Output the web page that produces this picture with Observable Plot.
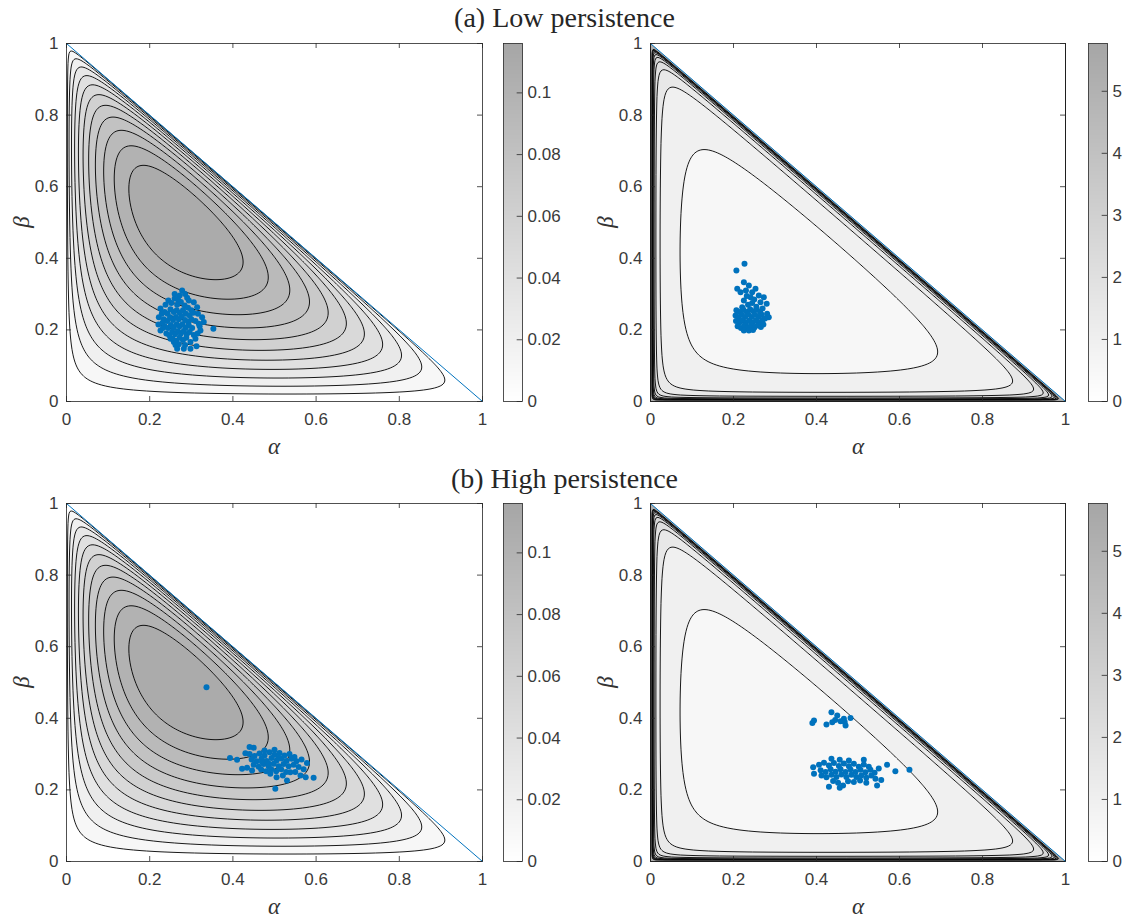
<!DOCTYPE html>
<html><head><meta charset="utf-8">
<script src="https://cdn.jsdelivr.net/npm/d3@7"></script>
<script src="https://cdn.jsdelivr.net/npm/@observablehq/plot@0.6"></script>
<style>
body{margin:0;background:#fff;}
#root{position:relative;width:1129px;height:921px;overflow:hidden;font-family:"Liberation Sans",Arial,sans-serif;}
.ttl{position:absolute;left:0;width:1129px;text-align:center;font-family:"Liberation Serif",serif;font-size:28px;line-height:30px;color:#262626;}
.lab{position:absolute;font-family:"Liberation Serif",serif;font-style:italic;font-size:23px;line-height:24px;color:#333;width:30px;text-align:center;}
</style></head><body><div id="root"></div>
<script>
// ---------- data ----------
const titles = ["(a) Low persistence", "(b) High persistence"];
const alphaTicks = [0, 0.2, 0.4, 0.6, 0.8, 1];
const betaTicks = [0, 0.2, 0.4, 0.6, 0.8, 1];
const priorLevels = [0.01, 0.02, 0.03, 0.04, 0.05, 0.06, 0.07, 0.08, 0.09, 0.10, 0.11];
const postLevels = [0.5, 1, 1.5, 2, 2.5, 3, 3.5, 4, 4.5, 5, 5.5];
const priorMax = 0.116;
const postMax = 5.77;
const priorBarTicks = [0, 0.02, 0.04, 0.06, 0.08, 0.1];
const postBarTicks = [0, 1, 2, 3, 4, 5];
// shape parameters of the two density surfaces (estimated from contour crossings)
// prior: peak * G(u) * H(v), u = alpha/(1-beta), v = beta
const priorShape = {peak: 0.1225, uLow: 0.62, uHigh: 0.52, vLow: 1, vHigh: 1};
// posterior: c0 + c1*alpha^-s + c2*beta^-s + c3*(1-alpha-beta)^-s
const postShape = {c0: 0.447, c1: 0.042, c2: 0.046, c3: 0.066, s: 0.8};
const diagonal = [[0, 1], [1, 0]];

const ptsLowLeft = [[0.278,0.31],[0.272,0.296],[0.268,0.285],[0.226,0.26],[0.222,0.235],[0.226,0.198],[0.221,0.215],[0.353,0.203],[0.326,0.235],[0.314,0.263],[0.306,0.277],[0.294,0.282],[0.266,0.147],[0.282,0.147],[0.298,0.147],[0.3125,0.154],[0.258,0.166],[0.25,0.175],[0.298,0.166],[0.31,0.175],[0.322,0.198],[0.318,0.217],
[0.238,0.27],[0.245,0.282],[0.252,0.275],[0.26,0.288],[0.266,0.27],[0.275,0.278],[0.284,0.268],[0.292,0.262],[0.3,0.255],
[0.236,0.25],[0.243,0.245],[0.25,0.258],[0.258,0.25],[0.265,0.255],[0.272,0.248],[0.28,0.255],[0.287,0.245],[0.296,0.24],[0.305,0.248],
[0.234,0.23],[0.242,0.225],[0.249,0.235],[0.256,0.228],[0.263,0.236],[0.27,0.23],[0.277,0.238],[0.285,0.228],[0.293,0.222],[0.3,0.23],[0.31,0.225],
[0.236,0.21],[0.244,0.205],[0.251,0.214],[0.258,0.207],[0.265,0.216],[0.272,0.21],[0.279,0.216],[0.286,0.206],[0.294,0.212],[0.302,0.205],
[0.24,0.19],[0.247,0.185],[0.254,0.195],[0.261,0.188],[0.268,0.196],[0.275,0.19],[0.282,0.197],[0.289,0.188],[0.296,0.194],[0.306,0.186],
[0.255,0.175],[0.264,0.17],[0.272,0.178],[0.28,0.172],[0.288,0.178],[0.27,0.16],[0.285,0.158],[0.262,0.158],
[0.229,0.245],[0.231,0.22],[0.232,0.205],[0.316,0.245],[0.32,0.21],[0.33,0.222],[0.315,0.19],[0.26,0.3],[0.285,0.3],[0.29,0.29]];

const ptsLowRight = [[0.2265,0.385],[0.207,0.366],[0.225,0.333],[0.209,0.315],[0.217,0.305],[0.237,0.324],[0.253,0.315],[0.261,0.296],[0.273,0.291],[0.28,0.273],[0.265,0.277],[0.241,0.291],[0.225,0.282],[0.221,0.263],[0.281,0.245],[0.285,0.235],[0.23,0.31],[0.245,0.305],[0.232,0.295],[0.25,0.285],[0.235,0.27],[0.255,0.265],[0.245,0.275],[0.27,0.26],
[0.207,0.255],[0.215,0.25],[0.224,0.256],[0.232,0.25],[0.24,0.258],[0.248,0.252],[0.256,0.258],[0.264,0.25],
[0.205,0.24],[0.212,0.235],[0.22,0.242],[0.228,0.236],[0.236,0.243],[0.244,0.236],[0.252,0.242],[0.26,0.236],[0.268,0.242],
[0.206,0.225],[0.214,0.22],[0.222,0.227],[0.23,0.22],[0.238,0.226],[0.246,0.22],[0.254,0.226],[0.262,0.22],[0.27,0.228],
[0.21,0.21],[0.218,0.205],[0.226,0.212],[0.234,0.206],[0.242,0.212],[0.25,0.206],[0.258,0.212],[0.266,0.208],
[0.225,0.198],[0.237,0.198],[0.247,0.2],[0.276,0.232],[0.272,0.215]];

const ptsHighLeft = [[0.3365,0.487],
[0.45,0.318],[0.43,0.3025],[0.393,0.289],[0.41,0.284],[0.422,0.259],[0.434,0.262],[0.446,0.254],[0.578,0.275],[0.594,0.234],[0.575,0.2355],[0.57,0.258],[0.5625,0.24],[0.53,0.226],[0.505,0.2355],[0.502,0.203],[0.538,0.249],[0.55,0.25],[0.44,0.32],
[0.44,0.3],[0.452,0.295],[0.464,0.302],[0.476,0.296],[0.488,0.305],[0.5,0.298],[0.512,0.303],[0.524,0.296],[0.536,0.3],[0.548,0.292],
[0.445,0.285],[0.457,0.28],[0.469,0.288],[0.481,0.281],[0.493,0.289],[0.505,0.282],[0.517,0.288],[0.529,0.281],[0.541,0.287],[0.553,0.28],[0.565,0.285],
[0.45,0.27],[0.462,0.265],[0.474,0.272],[0.486,0.266],[0.498,0.273],[0.51,0.266],[0.522,0.272],[0.534,0.266],[0.546,0.27],[0.558,0.264],
[0.468,0.257],[0.48,0.252],[0.492,0.258],[0.504,0.252],[0.516,0.258],[0.528,0.25],[0.52,0.24],[0.49,0.245],
[0.476,0.31],[0.5,0.312],[0.51,0.29],[0.47,0.278],[0.485,0.275]];

const ptsHighRight = [[0.436,0.417],[0.45,0.408],[0.466,0.399],[0.482,0.401],[0.47,0.38],[0.458,0.392],[0.438,0.389],[0.424,0.383],[0.394,0.394],[0.39,0.387],[0.445,0.395],[0.468,0.39],
[0.392,0.263],[0.394,0.245],[0.57,0.27],[0.59,0.252],[0.624,0.256],[0.55,0.26],[0.542,0.231],[0.556,0.228],[0.546,0.212],[0.514,0.284],[0.43,0.209],[0.456,0.206],[0.464,0.212],[0.436,0.287],[0.456,0.284],[0.478,0.282],
[0.406,0.27],[0.418,0.276],[0.43,0.268],[0.442,0.275],[0.454,0.267],[0.466,0.274],[0.478,0.266],[0.49,0.273],[0.502,0.265],[0.514,0.271],[0.526,0.265],
[0.41,0.255],[0.422,0.25],[0.434,0.258],[0.446,0.251],[0.458,0.258],[0.47,0.25],[0.482,0.257],[0.494,0.25],[0.506,0.256],[0.518,0.249],[0.53,0.256],[0.54,0.248],
[0.412,0.24],[0.424,0.235],[0.436,0.242],[0.448,0.236],[0.46,0.243],[0.472,0.236],[0.484,0.242],[0.496,0.236],[0.508,0.24],[0.52,0.234],[0.532,0.24],
[0.44,0.225],[0.452,0.22],[0.476,0.224],[0.49,0.222],[0.505,0.226],[0.52,0.22]];

// ---------- surfaces ----------
function bump(t, lo, hi) { // normalised t^lo (1-t)^hi, equal to 1 at its maximum
  if (t <= 0 || t >= 1) return 0;
  const m = lo / (lo + hi);
  return Math.pow(t / m, lo) * Math.pow((1 - t) / (1 - m), hi);
}
function priorField(a, b) {
  const g = 1 - a - b;
  if (a <= 0 || b <= 0 || g <= 0) return 0;
  const {peak, uLow, uHigh, vLow, vHigh} = priorShape;
  return peak * bump(a / (1 - b), uLow, uHigh) * bump(b, vLow, vHigh);
}
function postField(a, b) {
  const {c0, c1, c2, c3, s} = postShape;
  const g = Math.max(1 - a - b, 1e-4);
  return c0 + c1 * Math.pow(Math.max(a, 1e-4), -s) + c2 * Math.pow(Math.max(b, 1e-4), -s) + c3 * Math.pow(g, -s);
}

const INK = "#262626";
const TEXT = "#3a3a3a";
const BLUE = "#0072BD";
const GRAYTOP = "#a6a6a6";
const root = document.getElementById("root");

function place(node, left, top) {
  node.style.position = "absolute";
  node.style.left = left + "px";
  node.style.top = top + "px";
  root.appendChild(node);
}

function panel(field, levels, maxv, pts, whiteOverlay, frameW) {
  const marks = [
    Plot.contour({x1: 0, x2: 1, y1: 0, y2: 1, value: field, thresholds: levels, pixelSize: 1,
      fill: "value", stroke: "#000", strokeWidth: 0.9})
  ];
  if (whiteOverlay) {
    marks.push(Plot.areaY(diagonal, {x: d => d[0], y1: d => d[1], y2: 1, fill: "white"}));
  }
  marks.push(
    Plot.line(diagonal, {x: d => d[0], y: d => d[1], stroke: BLUE, strokeWidth: 1}),
    Plot.dot(pts, {x: d => d[0], y: d => d[1], r: 3, fill: BLUE, stroke: "none"}),
    Plot.ruleX(alphaTicks, {y1: 0, y2: 0.014, stroke: INK, strokeWidth: 0.8}),
    Plot.ruleX(alphaTicks, {y1: 0.986, y2: 1, stroke: INK, strokeWidth: 0.8}),
    Plot.ruleY(betaTicks, {x1: 0, x2: 0.012, stroke: INK, strokeWidth: 0.8}),
    Plot.ruleY(betaTicks, {x1: 0.988, x2: 1, stroke: INK, strokeWidth: 0.8}),
    Plot.axisX(alphaTicks, {tickSize: 0, tickPadding: 11, tickFormat: d => String(d)}),
    Plot.axisY(betaTicks, {tickSize: 0, tickPadding: 8, tickFormat: d => String(d)}),
    Plot.frame({stroke: INK, strokeWidth: 0.8})
  );
  return Plot.plot({
    width: 66 + frameW + 2, height: 13 + 358 + 60,
    marginLeft: 66, marginRight: 2, marginTop: 13, marginBottom: 60,
    x: {domain: [0, 1], label: null},
    y: {domain: [0, 1], label: null},
    color: {type: "linear", domain: [0, maxv], range: ["#ffffff", GRAYTOP]},
    style: {fontFamily: "'Liberation Sans', Arial, sans-serif", fontSize: "17px", color: TEXT, background: "transparent", overflow: "visible"},
    marks
  });
}

function colorbar(maxv, ticks) {
  return Plot.plot({
    width: 23 + 19 + 50, height: 13 + 358 + 20,
    marginLeft: 23, marginRight: 50, marginTop: 13, marginBottom: 20,
    x: {domain: [0, 1], axis: null},
    y: {domain: [0, maxv], label: null},
    color: {type: "linear", domain: [0, maxv], range: ["#ffffff", GRAYTOP]},
    style: {fontFamily: "'Liberation Sans', Arial, sans-serif", fontSize: "17px", color: TEXT, background: "transparent", overflow: "visible"},
    marks: [
      Plot.raster({x1: 0, x2: 1, y1: 0, y2: maxv, fill: (x, y) => y, pixelSize: 1}),
      Plot.ruleY(ticks, {x1: 0.72, x2: 1, stroke: INK, strokeWidth: 0.8}),
      Plot.axisY(ticks, {anchor: "right", tickSize: 0, tickPadding: 5, tickFormat: d => String(d)}),
      Plot.frame({stroke: INK, strokeWidth: 0.8})
    ]
  });
}

function label(text, cx, cy, rotate) {
  const d = document.createElement("div");
  d.className = "lab";
  d.textContent = text;
  d.style.left = (cx - 15) + "px";
  d.style.top = (cy - 12) + "px";
  if (rotate) d.style.transform = "rotate(-90deg)";
  root.appendChild(d);
}

function title(text, top) {
  const d = document.createElement("div");
  d.className = "ttl";
  d.textContent = text;
  d.style.top = top + "px";
  root.appendChild(d);
}

title(titles[0], 3);
title(titles[1], 464);

const rows = [
  {top: 30, left: ptsLowLeft, right: ptsLowRight},
  {top: 490, left: ptsHighLeft, right: ptsHighRight}
];
for (const r of rows) {
  place(panel(priorField, priorLevels, priorMax, r.left, false, 416), 0, r.top);
  place(colorbar(priorMax, priorBarTicks), 480, r.top);
  place(panel(postField, postLevels, postMax, r.right, true, 415), 584, r.top);
  place(colorbar(postMax, postBarTicks), 1065, r.top);
  label("α", 274, r.top + 417, false);
  label("α", 858, r.top + 417, false);
  label("β", 22, r.top + 192, true);
  label("β", 606, r.top + 192, true);
}
</script></body></html>
